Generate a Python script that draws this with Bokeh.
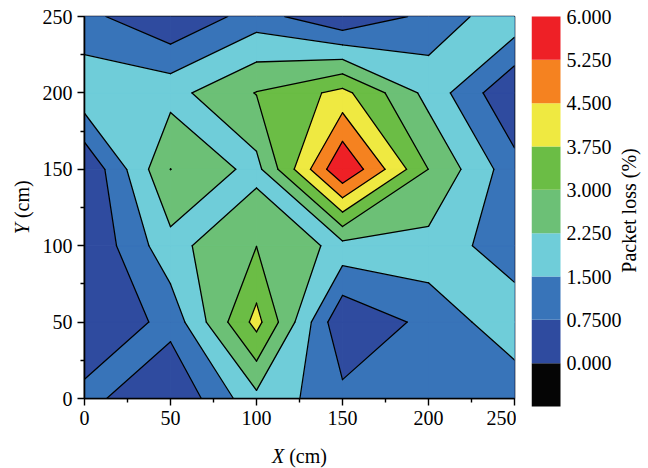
import math
from bokeh.plotting import figure
from bokeh.models import Range1d, FixedTicker, ColumnDataSource
from bokeh.layouts import row, column
from bokeh.core.properties import value
from bokeh.embed import file_html
from bokeh.resources import INLINE

# ---------------- data ----------------
X_CM = [0, 50, 100, 150, 200, 250]
Y_CM = [0, 50, 100, 150, 200, 250]
# packet loss (%) measured on the grid, one list per row (y value)
LOSS_Y0 = [1.00, 0.03, 2.04, 0.97, 1.00, 0.97]
LOSS_Y50 = [0.01, 1.00, 4.00, 0.08, 0.97, 2.02]
LOSS_Y100 = [0.01, 2.00, 2.99, 2.00, 2.00, 1.02]
LOSS_Y150 = [0.05, 3.005, 2.01, 5.98, 2.99, 1.03]
LOSS_Y200 = [2.025, 1.99, 3.03, 3.98, 2.00, 0.03]
LOSS_Y250 = [0.98, 0.05, 1.10, 0.03, 0.98, 2.05]

LEVELS = [0.0, 0.75, 1.5, 2.25, 3.0, 3.75, 4.5, 5.25, 6.0]
LEVEL_LABELS = ["0.000", "0.7500", "1.500", "2.250", "3.000",
                "3.750", "4.500", "5.250", "6.000"]
BAND_COLORS = ["#2F4B9F", "#3874B9", "#6FCDD9", "#6CC076",
               "#6BBD45", "#EFE941", "#F58220", "#EE2026"]
BELOW_COLOR = "#050505"
AXIS_TICKS = [0, 50, 100, 150, 200, 250]
X_TITLE = ["X", "(cm)"]
Y_TITLE = ["Y", "(cm)"]
COLORBAR_TITLE = "Packet loss (%)"

# how ambiguous (saddle) cells are joined: which diagonal's corners connect
SADDLE_JOIN = {(0, 0): "BL-TR", (1, 2): "BL-TR", (1, 3): "TL-BR",
               (2, 2): "TL-BR", (4, 1): "TL-BR", (4, 4): "BL-TR"}

Z = [LOSS_Y0, LOSS_Y50, LOSS_Y100, LOSS_Y150, LOSS_Y200, LOSS_Y250]

FONT = "Liberation Serif"
FS = "20px"


# ---------------- marching squares (linear, per cell) ----------------
def clip_above(poly, L):
    out = []
    n = len(poly)
    for k in range(n):
        x0, y0, z0, _ = poly[k]
        x1, y1, z1, _ = poly[(k + 1) % n]
        a0, a1 = z0 >= L, z1 >= L
        if a0:
            out.append(poly[k])
        if a0 != a1:
            t = (L - z0) / (z1 - z0)
            out.append((x0 + t * (x1 - x0), y0 + t * (y1 - y0), L, True))
    return out


def cell_superlevel(i, j, L):
    c = [(X_CM[i], Y_CM[j], Z[j][i], False),
         (X_CM[i + 1], Y_CM[j], Z[j][i + 1], False),
         (X_CM[i + 1], Y_CM[j + 1], Z[j + 1][i + 1], False),
         (X_CM[i], Y_CM[j + 1], Z[j + 1][i], False)]
    above = [p[2] >= L for p in c]
    if not any(above):
        return []
    saddle = above[0] == above[2] and above[1] == above[3] and above[0] != above[1]
    if saddle:
        join = SADDLE_JOIN.get((i, j))
        if join is None:
            connect_high = sum(p[2] for p in c) / 4.0 >= L
        else:
            k0 = 0 if join == "BL-TR" else 1
            connect_high = above[k0]
        if not connect_high:
            polys = []
            for k in range(4):
                if above[k]:
                    polys.append(clip_above([c[k - 1], c[k], c[(k + 1) % 4]], L))
            return polys
    return [clip_above(c, L)]


fill_xs, fill_ys, fill_col = [], [], []
line_xs, line_ys = [], []
for li, L in enumerate(LEVELS[:-1]):
    for j in range(len(Y_CM) - 1):
        for i in range(len(X_CM) - 1):
            for poly in cell_superlevel(i, j, L):
                fill_xs.append([p[0] for p in poly])
                fill_ys.append([p[1] for p in poly])
                fill_col.append(BAND_COLORS[li])
                n = len(poly)
                for k in range(n):
                    a, b = poly[k], poly[(k + 1) % n]
                    if a[3] and b[3]:
                        line_xs.append([a[0], b[0]])
                        line_ys.append([a[1], b[1]])

fill_src = ColumnDataSource(dict(xs=fill_xs, ys=fill_ys, color=fill_col))
line_src = ColumnDataSource(dict(xs=line_xs, ys=line_ys))

# ---------------- main plot ----------------
p = figure(width=478, height=436,
           x_range=Range1d(X_CM[0], X_CM[-1]), y_range=Range1d(Y_CM[0], Y_CM[-1]),
           min_border_left=46, min_border_right=2, min_border_top=16, min_border_bottom=38,
           output_backend="svg", toolbar_location=None)
p.grid.visible = False
p.background_fill_color = "white"
p.outline_line_color = "black"
p.outline_line_width = 1.6
p.outline_line_alpha = 1.0

p.patches("xs", "ys", source=fill_src, fill_color="color", line_color="color", line_width=0.8)
p.multi_line("xs", "ys", source=line_src, line_color="black", line_width=1.3,
             line_cap="round", line_join="round")

minor = [(a + b) / 2 for a, b in zip(AXIS_TICKS[:-1], AXIS_TICKS[1:])]
for ax in (p.xaxis[0], p.yaxis[0]):
    ax.ticker = FixedTicker(ticks=AXIS_TICKS, minor_ticks=minor)
    ax.axis_line_color = "black"
    ax.axis_line_width = 1.6
    ax.major_tick_line_color = "black"
    ax.major_tick_line_width = 1.4
    ax.minor_tick_line_color = "black"
    ax.minor_tick_line_width = 1.4
    ax.major_tick_out = 7
    ax.major_tick_in = 0
    ax.minor_tick_out = 4
    ax.minor_tick_in = 0
    ax.major_label_text_font = FONT
    ax.major_label_text_font_size = FS
    ax.major_label_text_color = "black"
    ax.major_label_standoff = 5
    ax.axis_label = None

# ---------------- x title strip (below the plot) ----------------
pb = figure(width=478, height=32, x_range=p.x_range, y_range=Range1d(0, 32),
            min_border_left=46, min_border_right=2, min_border_top=0, min_border_bottom=0,
            x_axis_location=None, y_axis_location=None,
            output_backend="svg", toolbar_location=None)
pb.outline_line_color = None
pb.grid.visible = False
pb.text(x=[116.1], y=[13], text=[X_TITLE[0]], text_font=value(FONT), text_font_size=FS,
        text_font_style="italic", text_align="right", text_baseline="middle")
pb.text(x=[119.0], y=[13], text=[X_TITLE[1]], text_font=value(FONT), text_font_size=FS,
        text_align="left", text_baseline="middle")

# ---------------- y title strip (left of the plot) ----------------
pl = figure(width=38, height=468, x_range=Range1d(0, 38), y_range=Range1d(0, 468),
            min_border_left=0, min_border_right=0, min_border_top=0, min_border_bottom=0,
            x_axis_location=None, y_axis_location=None,
            output_backend="svg", toolbar_location=None)
pl.outline_line_color = None
pl.grid.visible = False
pl.text(x=[21.7], y=[245.4], text=[Y_TITLE[0]], text_font=value(FONT), text_font_size=FS,
        text_font_style="italic", text_align="right", text_baseline="middle",
        angle=math.pi / 2)
pl.text(x=[21.7], y=[250.4], text=[Y_TITLE[1]], text_font=value(FONT), text_font_size=FS,
        text_align="left", text_baseline="middle", angle=math.pi / 2)

# ---------------- colour scale ----------------
step = LEVELS[1] - LEVELS[0]
cb_px = 390.0 / (LEVELS[-1] - (LEVELS[0] - step))
cb_lo = LEVELS[0] - step - 62.0 / cb_px
cb_hi = LEVELS[-1] + 16.0 / cb_px
p2 = figure(width=132, height=468, x_range=Range1d(0, 117), y_range=Range1d(cb_lo, cb_hi),
            min_border_left=15, min_border_right=0, min_border_top=0, min_border_bottom=0,
            x_axis_location=None, y_axis_location=None,
            output_backend="svg", toolbar_location=None)
p2.outline_line_color = None
p2.grid.visible = False
p2.quad(left=0, right=29, bottom=[LEVELS[0] - step] + LEVELS[:-1], top=LEVELS,
        fill_color=[BELOW_COLOR] + BAND_COLORS, line_color=None)
p2.text(x=[35] * len(LEVELS), y=LEVELS, text=LEVEL_LABELS, text_font=value(FONT),
        text_font_size=FS, text_baseline="middle", text_align="left", text_color="black")
p2.text(x=[97], y=[cb_hi - 210.0 / cb_px], text=[COLORBAR_TITLE], text_font=value(FONT),
        text_font_size=FS, text_baseline="middle", text_align="center",
        angle=math.pi / 2, text_color="black")

layout = row(pl, column(p, pb), p2)
open("out.html", "w").write(file_html(layout, INLINE))
